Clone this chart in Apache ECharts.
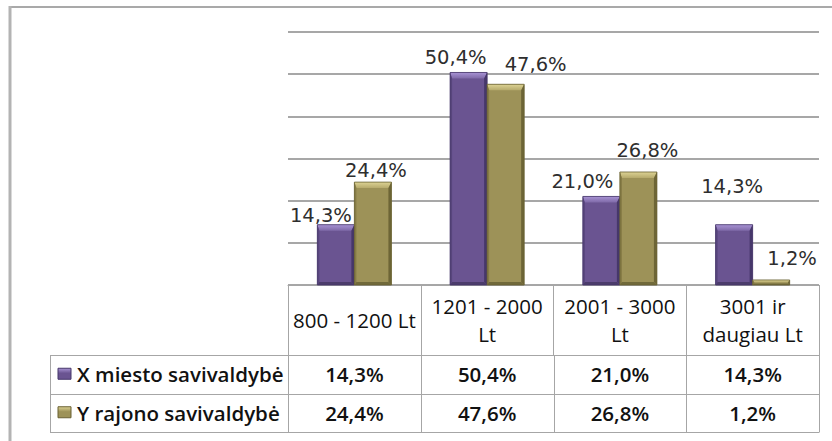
<!DOCTYPE html>
<html>
<head>
<meta charset="utf-8">
<script src="https://cdn.jsdelivr.net/npm/echarts@6/dist/echarts.min.js"></script>
<style>
html,body{margin:0;padding:0;background:#fff;}
#c{width:832px;height:441px;}
</style>
</head>
<body>
<div id="c"></div>
<script>
// ---------- data ----------
const categories = ['800 - 1200 Lt', '1201 - 2000\nLt', '2001 - 3000\nLt', '3001 ir\ndaugiau Lt'];
const seriesNames = ['X miesto savivaldybė', 'Y rajono savivaldybė'];
const xMiesto = [14.3, 50.4, 21.0, 14.3];
const yRajono = [24.4, 47.6, 26.8, 1.2];
const yTicks = [0, 10, 20, 30, 40, 50, 60];

// ---------- styles (not data) ----------
const labelDX = [[-15, -13, -19, -2], [3, 30, 9, 21]];
const labelGap = [[3, 9, 9, 32], [6, 14, 15, 15]];
const BAR_FRAC = 0.279;
const palettes = [
  {face:'#6a5491', top0:'#a893d4', top1:'#7f6aa8', left:'#57457c', right:'#46376a', bottom:'#4b3c6b', stroke:'#45366a'},
  {face:'#9d9258', top0:'#ddd394', top1:'#b6aa6c', left:'#857b45', right:'#6d6536', bottom:'#70693a', stroke:'#686132'}
];
const FONT_TABLE = 'Open Sans';
const GRID = {left: 288, right: 13, top: 32, bottom: 156};
const HEADER_H = 70, ROW_H = 38.5, TABLE_LEFT = 50;
const BORDER = '#a6a6a6';

function fmt(v) { return v.toFixed(1).replace('.', ',') + '%'; }

function makeRender(s) {
  const p = palettes[s];
  return function (params, api) {
    const i = api.value(0), v = api.value(1);
    const base = api.coord([i, 0]);
    const top = api.coord([i, v]);
    const band = api.size([1, 0])[0];
    const bw = band * BAR_FRAC;
    const x0 = s === 0 ? base[0] - bw : base[0];
    const y0 = top[1];
    const h = base[1] - top[1];
    const bt = Math.min(6, h * 0.45), bl = Math.min(2, h * 0.3), br = Math.min(3, h * 0.3), bb = Math.min(3, h * 0.3);
    const cx = x0 + bw / 2;
    return {
      type: 'group',
      children: [
        {type:'rect', shape:{x:x0, y:y0, width:bw, height:h}, style:{fill:p.face}},
        {type:'polygon', shape:{points:[[x0,y0],[x0+bw,y0],[x0+bw-br,y0+bt],[x0+bl,y0+bt]]},
          style:{fill:new echarts.graphic.LinearGradient(0,0,0,1,[{offset:0,color:p.top0},{offset:1,color:p.top1}])}},
        {type:'polygon', shape:{points:[[x0,y0],[x0+bl,y0+bt],[x0+bl,y0+h-bb],[x0,y0+h]]}, style:{fill:p.left}},
        {type:'polygon', shape:{points:[[x0+bw,y0],[x0+bw-br,y0+bt],[x0+bw-br,y0+h-bb],[x0+bw,y0+h]]}, style:{fill:p.right}},
        {type:'polygon', shape:{points:[[x0,y0+h],[x0+bl,y0+h-bb],[x0+bw-br,y0+h-bb],[x0+bw,y0+h]]}, style:{fill:p.bottom}},
        {type:'rect', shape:{x:x0, y:y0, width:bw, height:h}, style:{fill:'none', stroke:p.stroke, lineWidth:0.8}},
        {type:'text', style:{text:fmt(v), x:cx + labelDX[s][i], y:y0 - labelGap[s][i] + 4,
          align:'center', verticalAlign:'bottom', font:'19.5px "DejaVu Sans"', fill:'#2e2e2e'}}
      ]
    };
  };
}

const chart = echarts.init(document.getElementById('c'), null, {renderer:'svg'});
const valuesAll = [xMiesto, yRajono];

chart.setOption({
  animation: false,
  backgroundColor: '#ffffff',
  grid: {left:GRID.left, right:GRID.right, top:GRID.top, bottom:GRID.bottom, containLabel:false, outerBoundsMode:'none'},
  xAxis: {
    type: 'category',
    data: categories,
    axisLine: {show:true, lineStyle:{color:BORDER, width:1}},
    axisTick: {show:true, length:HEADER_H, lineStyle:{color:BORDER, width:1}},
    axisLabel: {interval:0, margin:HEADER_H/2, verticalAlign:'middle', lineHeight:28, fontSize:20.5,
      fontFamily:FONT_TABLE, color:'#111111', hideOverlap:false},
    splitLine: {show:false}
  },
  yAxis: {
    type: 'value',
    min: yTicks[0], max: yTicks[yTicks.length - 1], interval: yTicks[1] - yTicks[0],
    axisLabel: {show:false}, axisLine: {show:false}, axisTick: {show:false},
    splitLine: {lineStyle:{color:'#8a8a8a', width:1.5}}
  },
  series: valuesAll.map((vals, s) => ({
    type: 'custom',
    name: seriesNames[s],
    data: vals.map((v, i) => [i, v]),
    encode: {x:0, y:1},
    renderItem: makeRender(s),
    z: 3
  }))
});

// ---------- data table (built from the arrays, positioned via the axis scale) ----------
const baseY = chart.convertToPixel({yAxisIndex:0}, 0);
const centers = categories.map((c, i) => chart.convertToPixel({xAxisIndex:0}, i));
const colW = centers.length > 1 ? centers[1] - centers[0] : 130;
const leftX = centers[0] - colW / 2, rightX = centers[centers.length - 1] + colW / 2;
const rowTop = baseY + HEADER_H;
const g = [];
// frame
g.push({type:'line', shape:{x1:9, y1:7, x2:832, y2:7}, style:{stroke:'#a9a9a9', lineWidth:2}, silent:true});
g.push({type:'line', shape:{x1:10, y1:6, x2:10, y2:441}, style:{stroke:'#b3b3b3', lineWidth:3}, silent:true});
// horizontal lines
for (let r = 0; r <= seriesNames.length; r++) {
  const y = Math.round(rowTop + r * ROW_H) + 0.5;
  g.push({type:'line', shape:{x1:TABLE_LEFT, y1:y, x2:rightX, y2:y}, style:{stroke:BORDER, lineWidth:1}, silent:true});
}
// vertical lines for rows
const bottomY = Math.round(rowTop + seriesNames.length * ROW_H) + 0.5;
g.push({type:'line', shape:{x1:TABLE_LEFT+0.5, y1:rowTop, x2:TABLE_LEFT+0.5, y2:bottomY}, style:{stroke:BORDER, lineWidth:1}, silent:true});
for (let i = 0; i <= categories.length; i++) {
  const x = Math.round(leftX + i * colW) + 0.5;
  g.push({type:'line', shape:{x1:x, y1:rowTop, x2:x, y2:bottomY}, style:{stroke:BORDER, lineWidth:1}, silent:true});
}
// row contents
seriesNames.forEach((name, s) => {
  const cy = rowTop + (s + 0.5) * ROW_H;
  const p = palettes[s];
  g.push({type:'rect', shape:{x:58, y:cy - 6, width:13, height:11},
    style:{fill:new echarts.graphic.LinearGradient(0,0,0,1,[{offset:0,color:p.top0},{offset:0.45,color:p.face},{offset:1,color:p.face}]), stroke:p.stroke, lineWidth:1}, silent:true});
  g.push({type:'text', style:{text:name, x:77, y:cy, align:'left', verticalAlign:'middle',
    font:'600 20.5px "' + FONT_TABLE + '"', fill:'#111111'}, silent:true});
  valuesAll[s].forEach((v, i) => {
    g.push({type:'text', style:{text:fmt(v), x:centers[i], y:cy, align:'center', verticalAlign:'middle',
      font:'600 20.5px "' + FONT_TABLE + '"', fill:'#111111'}, silent:true});
  });
});
chart.setOption({graphic: g});
</script>
</body>
</html>
